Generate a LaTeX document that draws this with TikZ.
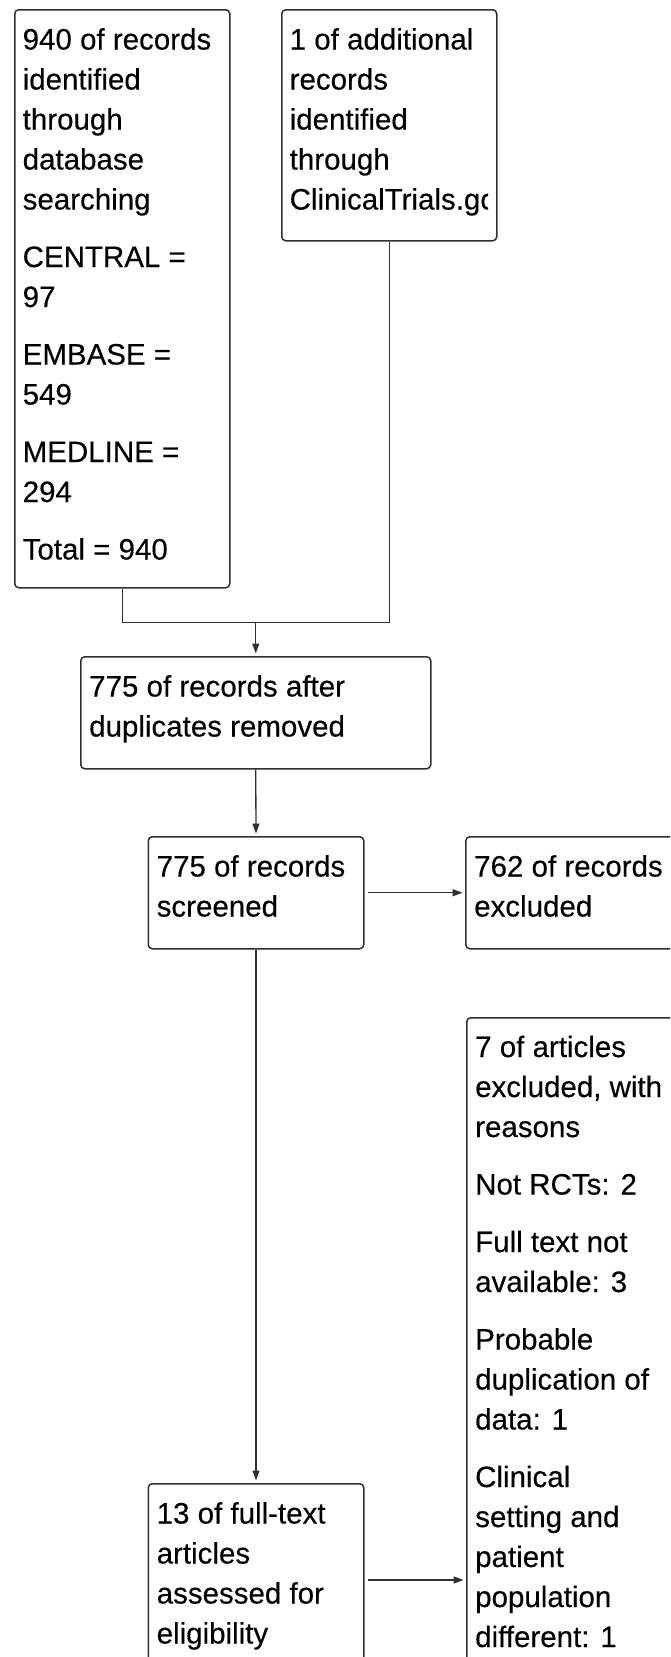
\documentclass[tikz,border=0pt]{standalone}
\usepackage{fontspec}
\setmainfont{Liberation Sans}
\newfontfamily\diagfont{Liberation Sans}[FakeBold=0.3]
\usetikzlibrary{arrows.meta,calc}
\definecolor{linegrey}{HTML}{303030}
\tikzset{
  box/.style={draw=linegrey, line width=1.5pt, rounded corners=4pt, anchor=north west, inner sep=0pt},
  txt/.style={anchor=base west, inner sep=0pt, text=black, font=\diagfont\fontsize{29.5}{40}\selectfont},
  conn/.style={draw=linegrey, line width=1.3pt},
  arr/.style={conn, -{Triangle[length=10pt,width=7pt]}, shorten >=2.5pt},
}
\begin{document}
\begin{tikzpicture}[x=1pt,y=-1pt]
\useasboundingbox (0,0) rectangle (670,1657);
\clip (0,0) rectangle (670,1657);
\fill[white] (0,0) rectangle (670,1657);

% boxes
\node[box, minimum width=215pt, minimum height=578pt] (a) at (14,9) {};
\node[box, minimum width=215pt, minimum height=231pt] (b) at (281,9) {};
\node[box, minimum width=350pt, minimum height=112pt] (c) at (80,656) {};
\node[box, minimum width=215.5pt, minimum height=112pt] (d) at (147.5,836) {};
\node[box, minimum width=230pt, minimum height=112pt] (e) at (465,836) {};
\node[box, minimum width=230pt, minimum height=700pt] (f) at (466,1017) {};
\node[box, minimum width=215.5pt, minimum height=300pt] (g) at (147.5,1483) {};

% texts
\node[txt] (ta) at ([xshift=8.5pt,yshift=-40.5pt]a.north west) {\parbox[t]{300pt}{%
940 of records\\identified\\through\\database\\searching\\[17.5pt]
CENTRAL =\\97\\[17.5pt]
EMBASE =\\549\\[17.5pt]
MEDLINE =\\294\\[17.5pt]
Total = 940}};
\begin{scope}
\clip (281,9) rectangle (488,240);
\node[txt] (tb) at ([xshift=8.5pt,yshift=-40.5pt]b.north west) {\parbox[t]{300pt}{%
1 of additional\\records\\identified\\through\\ClinicalTrials.gov}};
\end{scope}
\node[txt] (tc) at ([xshift=9pt,yshift=-40.5pt]c.north west) {\parbox[t]{400pt}{%
775 of records after\\duplicates removed}};
\node[txt] (td) at ([xshift=9pt,yshift=-40.5pt]d.north west) {\parbox[t]{300pt}{%
775 of records\\screened}};
\node[txt] (te) at ([xshift=9pt,yshift=-40.5pt]e.north west) {\parbox[t]{300pt}{%
762 of records\\excluded}};
\node[txt] (tf) at ([xshift=9pt,yshift=-40pt]f.north west) {\parbox[t]{300pt}{%
7 of articles\\excluded, with\\reasons\\[17.5pt]
Not RCTs: 2\\[17.5pt]
Full text not\\available: 3\\[17.5pt]
Probable\\duplication of\\data: 1\\[17.5pt]
Clinical\\setting and\\patient\\population\\different: 1}};
\node[txt] (tg) at ([xshift=9pt,yshift=-40.5pt]g.north west) {\parbox[t]{300pt}{%
13 of full-text\\articles\\assessed for\\eligibility}};

% connectors
\coordinate (j) at ($(c.north)+(0,-33.5)$);
\coordinate (gf) at ($(g.north east)+(3.5,97)$);
\draw[conn] (a.south) |- (j);
\draw[conn] (b.south) |- (j);
\draw[arr] (j) -- (c.north);
\draw[arr] (c.south) -- (d.north);
\draw[arr] ([xshift=3.5pt]d.east) -- (e.west |- d.east);
\draw[arr] (d.south) -- (g.north);
\draw[arr] (gf) -- (f.west |- gf);
\end{tikzpicture}
\end{document}
